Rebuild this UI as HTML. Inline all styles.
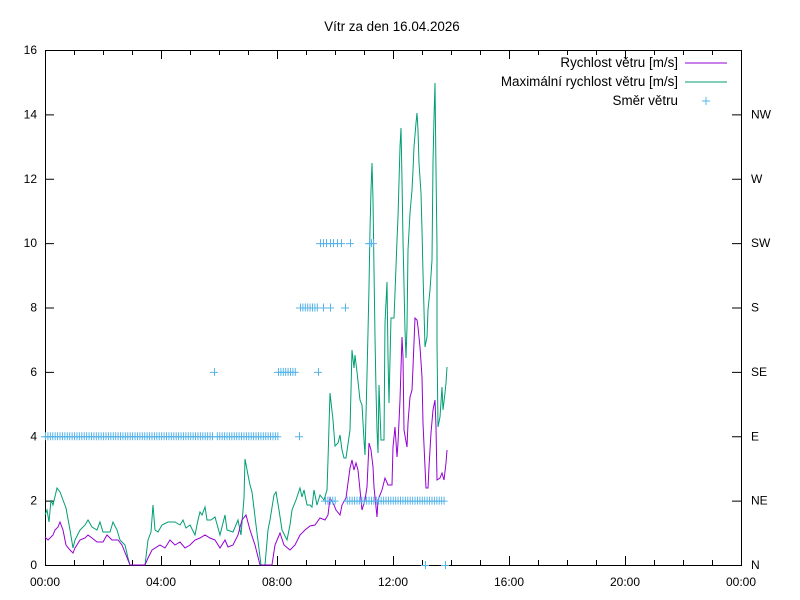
<!DOCTYPE html>
<html><head><meta charset="utf-8"><style>
html,body{margin:0;padding:0;background:#fff;}
svg{display:block;font-family:"Liberation Sans",Arial,sans-serif;font-size:12px;}
.big{font-size:13.4px;}
</style></head><body>
<svg id="s" width="800" height="600" viewBox="0 0 800 600" xmlns="http://www.w3.org/2000/svg">
<rect width="800" height="600" fill="#fff"/>
<text class="big" x="392" y="31" text-anchor="middle">Vítr za den 16.04.2026</text>
<g id="ax" stroke="#000" stroke-width="1" fill="none"></g>
<rect x="45.5" y="50.5" width="696" height="515" fill="none" stroke="#000"/>
<g id="lbl"></g>
<polyline fill="none" stroke="#009e73" stroke-width="1" points="45,515 47,510 49,522 51,500 53,505 57,488 60,492 63,500 66,508 70,530 73,548 75,540 80,530 85,525 88,520 92,527 97,530 100,522 103,532 110,532 113,522 117,530 120,540 125,545 128,558 130,565 145,565 148,540 151,532 153,505 155,530 158,532 162,525 168,522 175,522 180,525 183,520 186,528 190,525 195,535 198,520 200,512 202,515 205,507 207,520 211,520 215,517 220,535 225,515 227,530 233,532 238,520 241,535 244,498 245,459 248,475 250,485 252,492 256,525 261,565 265,565 268,530 270,520 274,495 276,492 279,510 282,530 287,540 290,525 292,510 296,500 300,488 302,497 304,490 307,505 310,505 312,507 314,490 317,505 320,495 324,500 327,490 328,460 330,393 333,420 335,446 338,443 340,435 342,450 344,458 346,458 350,430 352,350 354,368 355,355 357,372 360,400 362,405 364,440 365,455 367,375 368,332 369,287 370,230 371,190 372,163 373,200 374,270 375,337 376,390 377,430 378,453 379,385 381,440 384,440 385,323 387,282 388,357 389,403 391,318 394,318 395,293 397,240 398,217 400,147 401,128 402,180 403,240 405,330 406,358 407,327 408,250 410,213 412,190 413,170 414,147 416,123 417,113 418,130 419,163 421,193 422,230 423,273 425,347 427,337 428,310 430,290 432,260 433,163 434,118 435,83 436,170 437,247 437,343 438,427 440,417 442,387 443,410 445,393 446,383 447,367"/>
<polyline fill="none" stroke="#9400d3" stroke-width="1" points="45,537 48,540 50,538 53,535 55,530 58,527 60,522 63,530 66,545 70,550 73,553 75,548 80,540 85,538 88,535 92,538 97,542 103,542 107,535 112,540 118,540 122,545 126,555 130,565 145,565 148,558 152,550 160,545 165,548 170,540 175,545 180,542 185,548 190,545 195,540 200,538 205,535 210,538 215,540 220,548 225,540 228,547 233,545 238,535 242,520 246,515 250,530 255,545 260,565 272,565 275,545 280,533 284,545 290,550 295,545 300,535 305,530 310,526 315,525 320,518 325,520 328,515 330,498 334,505 336,510 340,515 342,505 346,498 350,468 352,460 354,470 356,463 358,470 360,490 362,510 365,500 367,487 369,443 371,450 373,467 374,487 377,517 378,500 382,490 385,478 388,485 392,485 393,447 395,427 397,457 398,443 400,400 402,337 403,357 404,430 407,447 408,423 410,397 412,390 413,367 415,318 417,320 418,327 420,347 422,377 423,423 425,467 426,488 428,488 429,467 431,433 433,410 435,400 436,427 437,480 440,478 442,473 444,480 446,463 447,450"/>
<g id="dir" stroke="#56b4e9" stroke-width="1"></g>
<g class="big">
<text x="678" y="67" text-anchor="end">Rychlost větru [m/s]</text>
<line x1="685" y1="63" x2="727" y2="63" stroke="#9400d3"/>
<text x="678" y="86" text-anchor="end">Maximální rychlost větru [m/s]</text>
<line x1="685" y1="82" x2="727" y2="82" stroke="#009e73"/>
<text x="678" y="105" text-anchor="end">Směr větru</text>
<path d="M702,101h8M706,97v8" stroke="#56b4e9"/>
</g>
</svg>
<script>
var NS="http://www.w3.org/2000/svg";
function el(p,t,a,txt){var e=document.createElementNS(NS,t);for(var k in a)e.setAttribute(k,a[k]);if(txt)e.textContent=txt;document.getElementById(p).appendChild(e);}
var X0=45,X1=741,Y0=565,Y1=50,uy=(Y0-Y1)/16;
var dirs=["N","NE","E","SE","S","SW","W","NW"];
for(var v=0;v<=16;v+=2){var y=Y0-v*uy;
 el("ax","path",{d:"M45,"+(y+.5)+"h9M741,"+(y+.5)+"h-9"});
 el("lbl","text",{x:37,y:y+4,"text-anchor":"end"},""+v);
 if(v<=14)el("lbl","text",{x:751,y:y+4},dirs[v/2]);}
for(var h=0;h<=24;h++){var x=X0+h*(X1-X0)/24;var L=(h%4==0)?9:5;
 el("ax","path",{d:"M"+(x+.5)+",565v-"+L+"M"+(x+.5)+",50v"+L});
 if(h%4==0)el("lbl","text",{x:x,y:586,"text-anchor":"middle"},(h%24<10?"0":"")+(h%24)+":00");}
function plus(x,v){var y=Y0-v*uy;el("dir","path",{d:"M"+(x-4)+","+(y+.5)+"h8M"+(x+.5)+","+(y-4)+"v8"});}
for(var x=45;x<=278;x+=2.42)if(Math.abs(x-214)>1.5)plus(x,4);
plus(214,6);for(var x=278;x<=297;x+=2.4)plus(x,6);plus(318,6);plus(299,4);
for(var x=300;x<=317;x+=2.4)plus(x,8);plus(323,8);plus(330,8);plus(345,8);
[320,323,326,330,333,337,341,350,369,371,373].forEach(function(x){plus(x,10);});
for(var x=325;x<=445;x+=2.42)if(!(x>336&&x<346))plus(x,2);
plus(425,0);plus(445,0);
</script>
</body></html>
